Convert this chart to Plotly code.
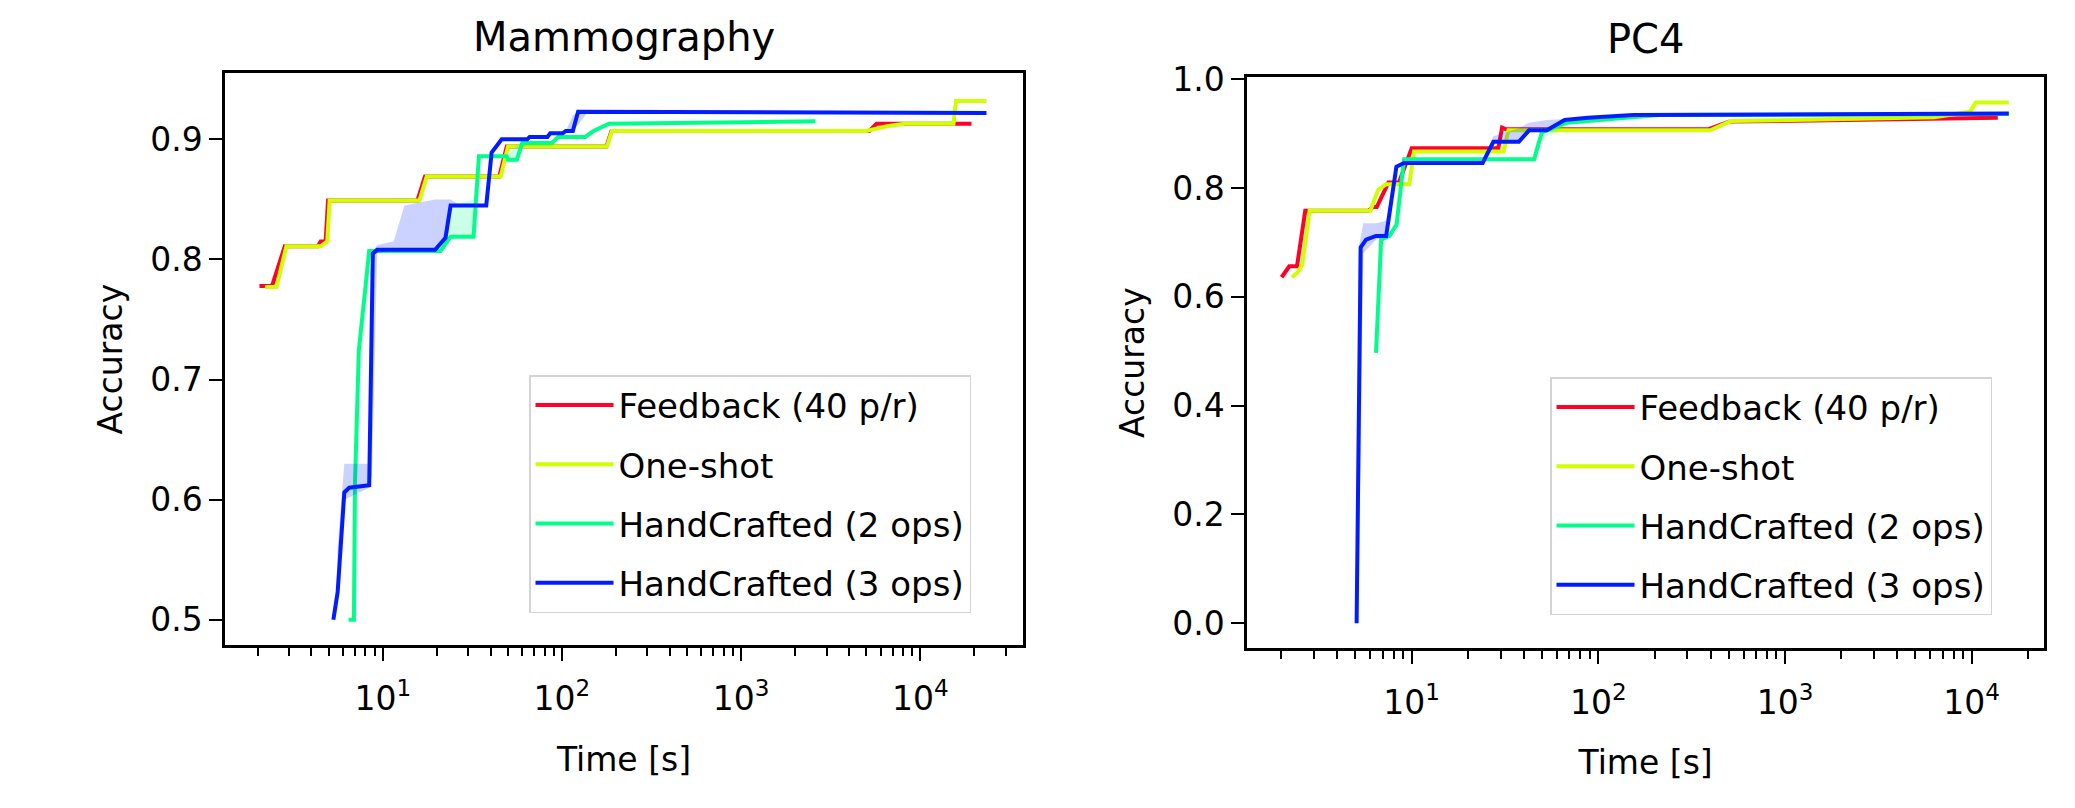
import plotly.graph_objects as go

# ---------------- Data: Mammography ----------------
mam_fb_t = [2.05, 2.41, 2.84, 4.35, 4.5, 4.8, 4.95, 15.6, 17.2, 44.7, 49.2, 177, 189, 5190, 5700, 19300]
mam_fb_acc = [0.778, 0.778, 0.811, 0.811, 0.815, 0.815, 0.849, 0.849, 0.869, 0.869, 0.894, 0.894, 0.907, 0.907, 0.913, 0.913]

mam_os_t = [2.2, 2.55, 2.9, 4.5, 4.9, 5.05, 16.0, 17.6, 45.5, 50, 178, 190, 5000, 6500, 8200, 15300, 15800, 23400]
mam_os_acc = [0.777, 0.777, 0.811, 0.811, 0.815, 0.849, 0.849, 0.869, 0.869, 0.894, 0.894, 0.907, 0.907, 0.911, 0.913, 0.913, 0.932, 0.932]

mam_hc2_t = [6.44, 6.9, 7.0, 7.35, 8.4, 21, 23.9, 32.1, 34.4, 49, 50, 56, 60, 88, 95, 135, 150, 183, 2600]
mam_hc2_acc = [0.500, 0.500, 0.615, 0.724, 0.807, 0.807, 0.819, 0.819, 0.886, 0.886, 0.883, 0.883, 0.897, 0.897, 0.902, 0.902, 0.907, 0.913, 0.915]

mam_hc3_t = [5.3, 5.6, 6.1, 6.5, 8.4, 8.8, 9.3, 19.6, 22.4, 23.9, 37.8, 40.5, 46.1, 64, 66, 83, 86, 101, 105, 115, 123, 23400]
mam_hc3_acc = [0.500, 0.523, 0.606, 0.610, 0.612, 0.805, 0.808, 0.808, 0.818, 0.845, 0.845, 0.889, 0.900, 0.900, 0.902, 0.902, 0.905, 0.905, 0.907, 0.907, 0.923, 0.922]

# uncertainty bands (min / max over runs)
mam_hc3_band_t = [5.6, 6.1, 8.4, 8.7, 9.3, 11.5, 13.2, 19.6, 22.4, 23.9, 26.5]
mam_hc3_band_lo = [0.52, 0.60, 0.61, 0.62, 0.805, 0.808, 0.808, 0.808, 0.818, 0.845, 0.845]
mam_hc3_band_hi = [0.56, 0.63, 0.63, 0.805, 0.812, 0.815, 0.845, 0.85, 0.85, 0.85, 0.846]
mam_hc3_band2_t = [105, 115, 123, 140]
mam_hc3_band2_lo = [0.907, 0.907, 0.912, 0.923]
mam_hc3_band2_hi = [0.907, 0.920, 0.923, 0.923]

mam_hc2_band_t = [21, 23.9, 32.1, 34.4]
mam_hc2_band_lo = [0.807, 0.819, 0.819, 0.886]
mam_hc2_band_hi = [0.810, 0.845, 0.850, 0.886]
mam_hc2_band2_t = [49, 56, 60, 75, 88]
mam_hc2_band2_lo = [0.886, 0.883, 0.895, 0.897, 0.897]
mam_hc2_band2_hi = [0.886, 0.895, 0.897, 0.899, 0.899]

# ---------------- Data: PC4 ----------------
pc4_fb_t = [2.01, 2.21, 2.43, 2.69, 5.86, 6.2, 6.5, 7.5, 8.55, 10.0, 29.1, 30.5, 32, 390, 500, 13800]
pc4_fb_acc = [0.636, 0.656, 0.656, 0.758, 0.758, 0.765, 0.765, 0.810, 0.810, 0.873, 0.873, 0.911, 0.908, 0.908, 0.922, 0.929]

pc4_os_t = [2.28, 2.45, 2.59, 2.84, 6.0, 6.6, 7.3, 9.7, 10.3, 31, 33, 397, 513, 6300, 9800, 10500, 15800]
pc4_os_acc = [0.636, 0.645, 0.659, 0.758, 0.758, 0.796, 0.807, 0.807, 0.867, 0.867, 0.906, 0.906, 0.923, 0.930, 0.940, 0.957, 0.957]

pc4_hc2_t = [6.44, 6.86, 7.6, 8.3, 9.1, 45.3, 49.8, 68, 211, 15800]
pc4_hc2_acc = [0.497, 0.705, 0.712, 0.733, 0.853, 0.853, 0.902, 0.920, 0.934, 0.936]

pc4_hc3_t = [5.07, 5.33, 5.7, 6.44, 7.3, 8.28, 9.1, 24, 27.4, 37.5, 42.5, 53, 66, 88, 154, 15800]
pc4_hc3_acc = [0.0, 0.691, 0.705, 0.712, 0.712, 0.839, 0.846, 0.846, 0.885, 0.885, 0.906, 0.906, 0.925, 0.929, 0.934, 0.937]

pc4_hc3_band_t = [5.07, 5.2, 5.5, 6.44, 7.3, 8.28]
pc4_hc3_band_lo = [0.0, 0.05, 0.68, 0.705, 0.712, 0.839]
pc4_hc3_band_hi = [0.05, 0.69, 0.735, 0.735, 0.74, 0.845]
pc4_hc3_band2_t = [24, 27.4, 37.5, 42.5, 53, 66]
pc4_hc3_band2_lo = [0.846, 0.885, 0.885, 0.906, 0.906, 0.925]
pc4_hc3_band2_hi = [0.850, 0.895, 0.910, 0.920, 0.925, 0.927]

pc4_hc2_band_t = [45.3, 49.8, 68]
pc4_hc2_band_lo = [0.853, 0.890, 0.915]
pc4_hc2_band_hi = [0.870, 0.910, 0.922]

# ---------------- Labels / ticks ----------------
series_names = ["Feedback (40 p/r)", "One-shot", "HandCrafted (2 ops)", "HandCrafted (3 ops)"]
subplot_titles = ["Mammography", "PC4"]
x_tickvals = [10, 100, 1000, 10000]
x_ticktext = ["10<sup>1</sup>", "10<sup>2</sup>", "10<sup>3</sup>", "10<sup>4</sup>"]
mam_yticks = [0.5, 0.6, 0.7, 0.8, 0.9]
mam_yticktext = ["0.5", "0.6", "0.7", "0.8", "0.9"]
pc4_yticks = [0.0, 0.2, 0.4, 0.6, 0.8, 1.0]
pc4_yticktext = ["0.0", "0.2", "0.4", "0.6", "0.8", "1.0"]

# ---------------- Style ----------------
colors = ["#ff0029", "#cfff00", "#00ff89", "#001cff"]
band_colors = ["rgba(255,0,41,0.2)", "rgba(207,255,0,0.2)", "rgba(0,255,137,0.2)", "rgba(0,28,255,0.2)"]
FONT = "DejaVu Sans"
FS = 33
LW = 4

minor_vals = [m * 10 ** k for k in range(0, 5) for m in range(2, 10)]

fig = go.Figure()


def add_band(segments, color, xa, ya):
    xs, ys = [], []
    for t, lo, hi in segments:
        if xs:
            xs.append(None)
            ys.append(None)
        xs += list(t) + list(t)[::-1]
        ys += list(hi) + list(lo)[::-1]
    fig.add_trace(go.Scatter(x=xs, y=ys, fill="toself", fillcolor=color, mode="lines",
                             line=dict(width=0), hoverinfo="skip", showlegend=False,
                             xaxis=xa, yaxis=ya))


def add_line(t, acc, i, xa, ya, legend):
    fig.add_trace(go.Scatter(x=t, y=acc, mode="lines", name=series_names[i],
                             line=dict(color=colors[i], width=LW),
                             legend=legend, legendgroup=legend + str(i),
                             xaxis=xa, yaxis=ya))


# Mammography (left)
add_line(mam_fb_t, mam_fb_acc, 0, "x", "y", "legend")
add_line(mam_os_t, mam_os_acc, 1, "x", "y", "legend")
add_band([(mam_hc2_band_t, mam_hc2_band_lo, mam_hc2_band_hi),
          (mam_hc2_band2_t, mam_hc2_band2_lo, mam_hc2_band2_hi)], band_colors[2], "x", "y")
add_line(mam_hc2_t, mam_hc2_acc, 2, "x", "y", "legend")
add_band([(mam_hc3_band_t, mam_hc3_band_lo, mam_hc3_band_hi),
          (mam_hc3_band2_t, mam_hc3_band2_lo, mam_hc3_band2_hi)], band_colors[3], "x", "y")
add_line(mam_hc3_t, mam_hc3_acc, 3, "x", "y", "legend")

# PC4 (right)
add_line(pc4_fb_t, pc4_fb_acc, 0, "x2", "y2", "legend2")
add_line(pc4_os_t, pc4_os_acc, 1, "x2", "y2", "legend2")
add_band([(pc4_hc2_band_t, pc4_hc2_band_lo, pc4_hc2_band_hi)], band_colors[2], "x2", "y2")
add_line(pc4_hc2_t, pc4_hc2_acc, 2, "x2", "y2", "legend2")
add_band([(pc4_hc3_band_t, pc4_hc3_band_lo, pc4_hc3_band_hi),
          (pc4_hc3_band2_t, pc4_hc3_band2_lo, pc4_hc3_band2_hi)], band_colors[3], "x2", "y2")
add_line(pc4_hc3_t, pc4_hc3_acc, 3, "x2", "y2", "legend2")

# The page body has an 8px margin; the figure is sized to fit exactly inside it.
OFF = 8
W, H = 2075 - 2 * OFF, 808 - 2 * OFF


def px(xpix):
    return (xpix - OFF) / W


def py(ypix):
    return 1 - (ypix - OFF) / H


def xaxis(domain, rng, anchor):
    return dict(domain=domain, type="log", range=rng, anchor=anchor, automargin=False,
                tickvals=x_tickvals, ticktext=x_ticktext,
                ticks="outside", ticklen=13, tickwidth=2, tickcolor="black",
                ticklabelstandoff=10,
                minor=dict(tickvals=minor_vals, ticks="outside", ticklen=8, tickwidth=2, tickcolor="black"),
                showline=True, linecolor="black", linewidth=2.5, mirror=True,
                showgrid=False, zeroline=False,
                tickfont=dict(family=FONT, size=FS, color="black"),
                title=dict(text="Time [s]", font=dict(family=FONT, size=FS, color="black"), standoff=31))


def yaxis(domain, rng, anchor, vals, text):
    return dict(domain=domain, range=rng, anchor=anchor, automargin=False,
                tickvals=vals, ticktext=text,
                ticks="outside", ticklen=13, tickwidth=2, tickcolor="black",
                showline=True, linecolor="black", linewidth=2.5, mirror=True,
                showgrid=False, zeroline=False,
                tickfont=dict(family=FONT, size=FS, color="black"),
                title=dict(text="Accuracy", font=dict(family=FONT, size=FS, color="black"), standoff=18))


legend_style = dict(bgcolor="rgba(255,255,255,0.8)", bordercolor="#d4d4d4", borderwidth=1.5,
                    font=dict(family=FONT, size=34, color="black"), xanchor="left", yanchor="top",
                    tracegroupgap=12, itemwidth=78)

fig.update_layout(
    width=W, height=H, margin=dict(l=0, r=0, t=0, b=0, autoexpand=False),
    paper_bgcolor="white", plot_bgcolor="white",
    xaxis=xaxis([px(225), px(1023)], [0.1195, 4.573], "y"),
    yaxis=yaxis([py(645), py(73.3)], [0.479, 0.955], "x", mam_yticks, mam_yticktext),
    xaxis2=xaxis([px(1247), px(2044.3)], [0.1178, 4.389], "y2"),
    yaxis2=yaxis([py(648.3), py(77)], [-0.046, 1.004], "x2", pc4_yticks, pc4_yticktext),
    legend=dict(x=px(529), y=py(375), **legend_style),
    legend2=dict(x=px(1550), y=py(377), **legend_style),
    annotations=[
        dict(text=subplot_titles[0], x=px((225 + 1023) / 2), y=py(37), xref="paper", yref="paper",
             xanchor="center", yanchor="middle", showarrow=False,
             font=dict(family=FONT, size=40, color="black")),
        dict(text=subplot_titles[1], x=px((1247 + 2044.3) / 2), y=py(39), xref="paper", yref="paper",
             xanchor="center", yanchor="middle", showarrow=False,
             font=dict(family=FONT, size=40, color="black")),
    ],
)

fig.write_html("out.html")
